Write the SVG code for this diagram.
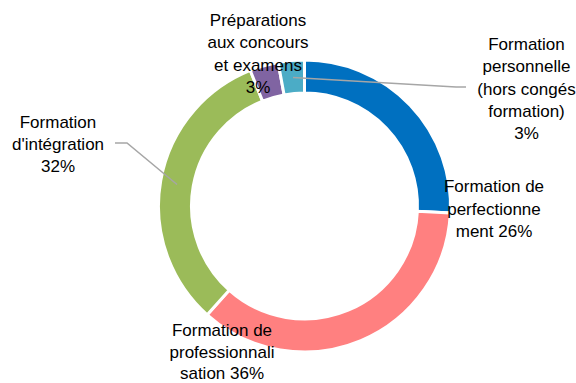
<svg xmlns="http://www.w3.org/2000/svg" width="576" height="383" viewBox="0 0 576 383">
  <style>
    .seg { stroke: #ffffff; stroke-width: 3; stroke-linejoin: miter; }
    .lbl { font-family: "Liberation Sans", Arial, sans-serif; font-size: 17px; fill: #000000; text-anchor: middle; }
    .lead { fill: none; stroke: #a6a6a6; stroke-width: 1.5; }
  </style>
  <rect width="576" height="383" fill="#ffffff"/>

  <g id="seg-perfectionnement">
    <path class="seg" fill="#0070c0" d="M304.5,60 A146,146 0 0 1 450.34,212.88 L417.37,211.32 A113,113 0 0 0 304.5,93 Z"/>
  </g>
  <g id="seg-professionnalisation">
    <path class="seg" fill="#ff8080" d="M450.34,212.88 A146,146 0 0 1 207.19,314.84 L229.18,290.24 A113,113 0 0 0 417.37,211.32 Z"/>
  </g>
  <g id="seg-integration">
    <path class="seg" fill="#9bbb59" d="M207.19,314.84 A146,146 0 0 1 250.28,70.44 L262.53,101.08 A113,113 0 0 0 229.18,290.24 Z"/>
  </g>
  <g id="seg-preparations">
    <path class="seg" fill="#8064a2" d="M250.28,70.44 A146,146 0 0 1 278.14,62.4 L284.1,94.86 A113,113 0 0 0 262.53,101.08 Z"/>
  </g>
  <g id="seg-personnelle">
    <path class="seg" fill="#4bacc6" d="M278.14,62.4 A146,146 0 0 1 304.5,60 L304.5,93 A113,113 0 0 0 284.1,94.86 Z"/>
  </g>

  <g id="connectors">
    <polyline class="lead" points="293,77.5 456,87 466,87"/>
    <polyline class="lead" points="115,143 127,143 177,184.5"/>
  </g>

  <g id="label-preparations">
    <text class="lbl" x="258" y="26">Préparations</text>
    <text class="lbl" x="258" y="48.3">aux concours</text>
    <text class="lbl" x="258" y="70.6">et examens</text>
    <text class="lbl" x="258" y="93">3%</text>
  </g>
  <g id="label-personnelle">
    <text class="lbl" x="526.5" y="50">Formation</text>
    <text class="lbl" x="526.5" y="72.3">personnelle</text>
    <text class="lbl" x="526.5" y="94.6">(hors congés</text>
    <text class="lbl" x="526.5" y="116.9">formation)</text>
    <text class="lbl" x="526.5" y="139">3%</text>
  </g>
  <g id="label-integration">
    <text class="lbl" x="58" y="128">Formation</text>
    <text class="lbl" x="58" y="150">d'intégration</text>
    <text class="lbl" x="58" y="172">32%</text>
  </g>
  <g id="label-perfectionnement">
    <text class="lbl" x="494" y="192">Formation de</text>
    <text class="lbl" x="494" y="214.5">perfectionne</text>
    <text class="lbl" x="494" y="237">ment 26%</text>
  </g>
  <g id="label-professionnalisation">
    <text class="lbl" x="222" y="336">Formation de</text>
    <text class="lbl" x="222" y="358">professionnali</text>
    <text class="lbl" x="222" y="379">sation 36%</text>
  </g>
</svg>
